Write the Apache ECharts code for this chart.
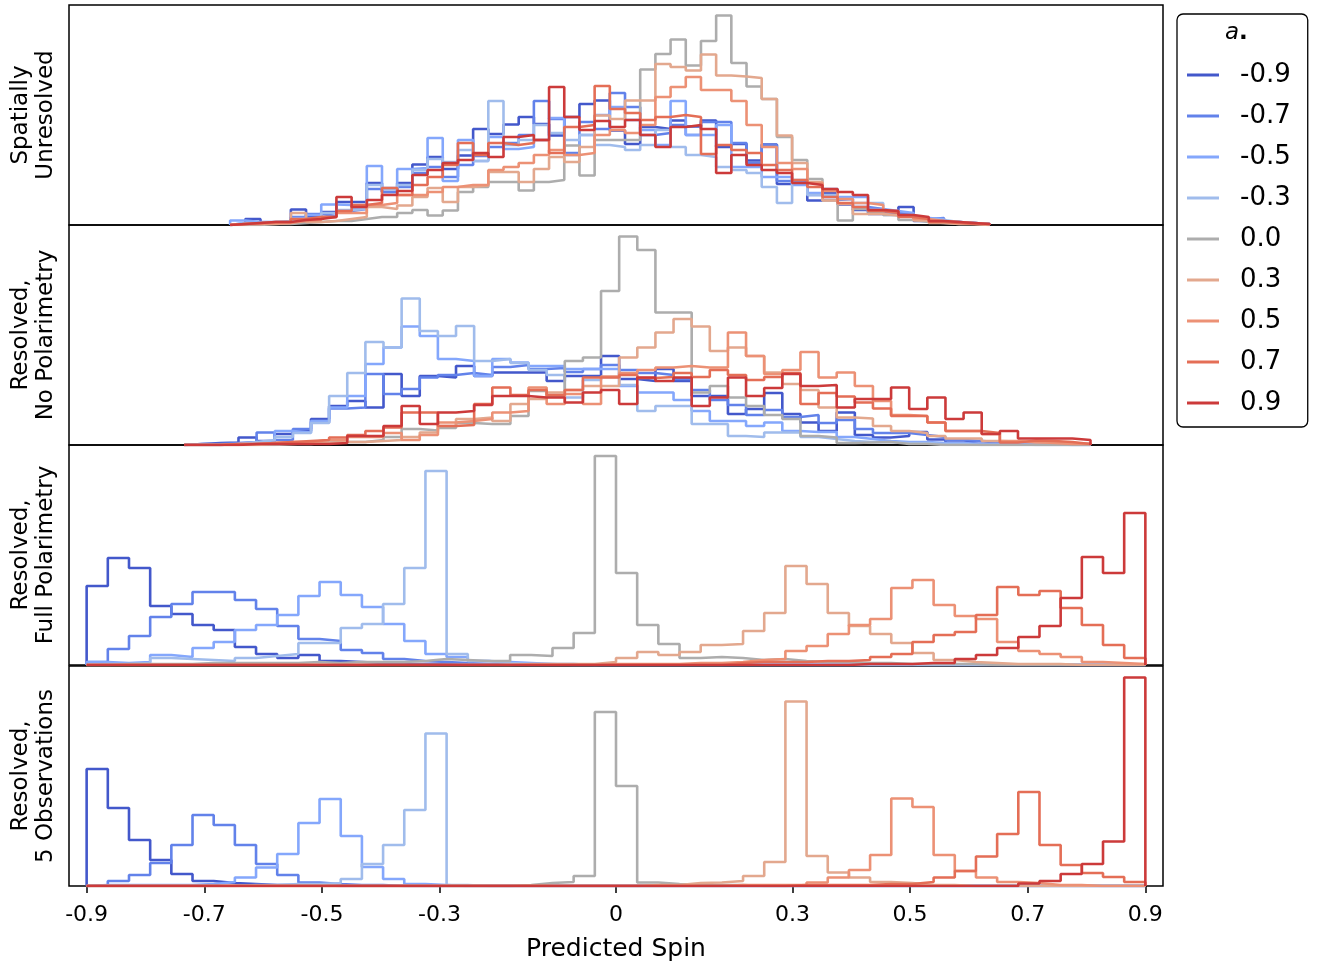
<!DOCTYPE html>
<html><head><meta charset="utf-8">
<script src="https://cdn.jsdelivr.net/npm/echarts@6/dist/echarts.min.js"></script>
<style>html,body{margin:0;padding:0;background:#fff}#c{width:1320px;height:965px}</style>
</head><body><div id="c"></div>
<script>
// ---- data ----
const spins = ['-0.9','-0.7','-0.5','-0.3','0.0','0.3','0.5','0.7','0.9'];
const colors = ['#4358cb','#6282ea','#84a7fc','#a0bcec','#adadad','#e3a88e','#ec9175','#e46e56','#cc3a3a'];
const panelLabels = ['Spatially\nUnresolved','Resolved,\nNo Polarimetry','Resolved,\nFull Polarimetry','Resolved,\n5 Observations'];
const tickValues = [-0.9,-0.7,-0.5,-0.3,0,0.3,0.5,0.7,0.9];

// bin edges: first edge and width per panel (50 bins each)
const P1_LO = -0.6561, P1_W = 0.025824;
const P2_LO = -0.7343, P2_W = 0.03082;
const P3_LO = -0.9,   P3_W = 0.036;
const P4_LO = -0.9,   P4_W = 0.036;

// Panel 1: Spatially Unresolved
const p1_n09 = [1,6,2,2,15.5,8.5,13,23,23,42,33,42,60.5,68,56,69.5,96,91,100.5,108,101,89.5,108,121,124.5,94.5,81,98,96,104.5,98.5,104.5,78,81,64.5,80.5,41,43,24.5,32,20.5,15,11,10,18,4,6,3,2,1];
const p1_n07 = [2,3,3,3,8,11,9,14,16,36,33,38,52,58,48,60,69,78,82,90,124,106,72,103,96,132,118,90,92,100,90,103,103,82,62,80,44,42,30,25,26,18,16,12,11,6,7,3,2,1];
const p1_n05 = [4.5,3,2,3,7,10,20.5,20,17,59,37,56,57,87,44,85,64,88,76,78,85,107,70,90,110,118,105,95,80,124,90,90,100,58,58,48,48,40,32,36,28,28,16,14,12,7,6,3,2,1];
const p1_n03 = [2,2,3,4,6,6,12,15,16,40,36,40,55,66,63,75,64,124,80,85,100,92,85,90,80,78,75,80,95,78,70,68,58,55,52,38,22,45,30,30,26,22,22,10,8,6,5,3,2,1];
const p1_00  = [0,0,1,1,2,3,4,4,6,8,8,12,15,9.5,14.5,33,38,43,43,34.5,43,45,79.5,49.5,85,85,85,155.5,171,185.5,159.5,184,209.5,162,138.5,126,88,65,46,24.5,4.5,16,13,10,5,3,2,1,1,0];
const p1_03  = [1,1,1,2,12,3,4,6,8,18,16,19.5,28,37,23,38,39.5,53,53,43,56,68,63,78,109.5,106,124.5,124.5,161,158,154.5,170.5,149.5,148.5,147,126,89.5,62,43,24.5,21,11,11,9.5,8,4.5,2,1,1,0];
const p1_05  = [1,1,2,2,4,5,8,12,12,20,22,30,30,33,38,40,40,55,58,62,70,75,70,72,90,95,92,100,128,138,148,135,135,124,100,78,62,56,42,34,26,22,20,14,9,6,4,3,2,1];
const p1_07  = [1,2,3,3,6,8,8,14,20,22,37,30,40,48,60,82,70,82,80,82,85,72,98,100,139,116,112,105,108,110,108,71,80,75,72,60,55,45,38,28,22,18,14,12,8,6,3,2,1,1];
const p1_09  = [1,2,3,3,5,6,8,28,18,25,30,34,50,55,62,65,72,68,88,90,85,138,108,95,104,98,105,90,78,98,100,96,52,70,60,55,52,42,40,36,33,30,15,14,10,8,4,3,2,1];

// Panel 2: Resolved, No Polarimetry
const p2_n09 = [1,2,2.5,7.5,4,11,14,26,39,44,37.5,71,49,69,67.5,79,69,72.5,72.5,72.5,64,69,69,89,66,64,76,64,49,49,31,36,52,31,22.5,14,32.5,10,7.5,9,13,5.5,2.5,4,2,1,1,1,1,1];
const p2_n07 = [1,1,2,3,12.5,5,16,22.5,36.5,37.5,71,51,56,67.5,70,72,70,78,80,76,77,73,76,80,75,72,70,66,55,45,40,30,35,28,30,22,25,16,12,12,10,8,5,4,3,2,1,1,0,0];
const p2_n05 = [0,0,1,2,3,14,12.5,24,37.5,49,81,97.5,118.5,109,86,84,69,86,82.5,79,79,76,76,76,59,52.5,52.5,45,34,24,24,19,22.5,14,13,13,8,6,4,3,3,2,2,1,1,1,0,0,0,0];
const p2_n03 = [0,0,1,3,5,8,12,22,49,72,103,97.5,146.5,114,109,119,84,86,82,75,70,47.5,65,68,60,34,39,39,21,21,9,8,12.5,12.5,8,6,4,3,3,2,2,1,1,0,0,0,0,0,0,0];
const p2_00  = [0,0,0,0,0,1,1,2.5,3,3,5,8,16,14.5,17,22,21,21,29,54,49,84,87.5,154,208.5,195,132.5,132.5,52.5,59,47.5,39,30,26,9,7.5,2,2.5,3,1,1,0,0,0,0,0,0,0,0,0];
const p2_03  = [0,0,0,0,1,1,2,2,3,3,4,5,8,12.5,19,26,27.5,24,41,46,52.5,55,59,59,87.5,97.5,112.5,126,118.5,94,97.5,89,72.5,61,55,37.5,27.5,26.5,19,14,12,9,6.5,6.5,4,3.5,2.5,2.5,2,1];
const p2_05  = [0,0,1,1,2,3,3,5,5,8,8,12,5,10,22.5,24,26,32.5,34,57.5,41,51,41,68.5,72,75,77.5,79,77.5,77.5,112.5,89,71,75,93,67.5,72.5,59,44,30,29,22.5,14,14,11,4,3,2,1,1];
const p2_07  = [0,0,1,1,2,3,4,5,7.5,10,14,17.5,32.5,32.5,19,20,41,57.5,50,55,50,55,67.5,67.5,70,67,68,72,68,75,70,65,68,72,41,52,48.5,42.5,36.5,29,29,22.5,14,14,12,2.5,4.5,4,3,1];
const p2_09  = [0,0,0,1,1,1,1,1,2,9,9,19,39,21,32.5,34,40,49,49,47.5,47.5,42.5,52.5,55,41,67.5,64,67.5,39,47.5,67.5,49,57,71,59,60,37.5,46,46,57.5,36,47.5,26,32.5,11,14,6.5,6.5,6.5,5];

// Panel 3: Resolved, Full Polarimetry
const p3_n09 = [79,107,97,59,51,40,35,18,11,7,10,4,3,2,1,1,1,1,0,0,0,0,0,0,0,0,0,0,0,0,0,0,0,0,0,0,0,0,0,0,0,0,0,0,0,0,0,0,0,0];
const p3_n07 = [3,16,29,48,61,73,73,65,56,39,26,24,15,12,6,4,3,2,1,1,0,0,0,0,0,0,0,0,0,0,0,0,0,0,0,0,0,0,0,0,0,0,0,0,0,0,0,0,0,0];
const p3_n05 = [3,2,3,10,8,17,23,35,40,50,69,83,70,58,41,24,11,8,4,3,2,1,1,0,0,0,0,0,0,0,0,0,0,0,0,0,0,0,0,0,0,0,0,0,0,0,0,0,0,0];
const p3_n03 = [1,1,2,7,6,5,4,7,9,11,22,22,37,41,61,97,194,11,4,2,1,1,0,0,0,0,0,0,0,0,0,0,0,0,0,0,0,0,0,0,0,0,0,0,0,0,0,0,0,0];
const p3_00  = [0,1,1,1,1,2,2,2,2,2,3,2,3,3,3,4,6,5,4,4,10,9,17,32,209,92,40,21,7,8,7,5,6,4,3,3,2,2,1,1,1,1,0,0,0,0,0,0,0,0];
const p3_03  = [0,0,0,0,0,0,0,0,0,0,0,0,0,0,0,0,0,0,0,0,1,1,1,1,3,7,13,10,13,20,21,34,52,99,81,52,39,31,22,12,5,3,2,1,1,1,0,0,0,0];
const p3_05  = [0,0,0,0,0,0,0,0,0,0,0,0,0,0,0,0,0,0,0,0,0,0,0,0,1,1,1,1,2,2,3,5,6,14,19,31,40,46,77,85,60,49,46,23,14,11,8,3,2,1];
const p3_07  = [0,0,0,0,0,0,0,0,0,0,0,0,0,0,0,0,0,0,0,0,0,0,0,0,0,0,0,0,0,0,2,3,3,3,4,4,5,8,11,23,30,33,50,78,70,74,57,40,20,7];
const p3_09  = [0,0,0,0,0,0,0,0,0,0,0,0,0,0,0,0,0,0,0,0,0,0,0,0,0,0,0,0,0,0,0,0,0,0,0,0,1,1,1,2,2,6,10,17,28,39,67,108,92,152];

// Panel 4: Resolved, 5 Observations
const p4_n09 = [117,78,46,26,12,5,3,2,1,1,1,0,0,0,0,0,0,0,0,0,0,0,0,0,0,0,0,0,0,0,0,0,0,0,0,0,0,0,0,0,0,0,0,0,0,0,0,0,0,0];
const p4_n07 = [1,5,11,23,41,71,61,41,22,11,3.5,2,1,1,0,0,0,0,0,0,0,0,0,0,0,0,0,0,0,0,0,0,0,0,0,0,0,0,0,0,0,0,0,0,0,0,0,0,0,0];
const p4_n05 = [1,1,1,1,1,2,4,8.5,18.5,32,63,87,50,19,7,2,1,0,0,0,0,0,0,0,0,0,0,0,0,0,0,0,0,0,0,0,0,0,0,0,0,0,0,0,0,0,0,0,0,0];
const p4_n03 = [0,0,0,0,0,0,0,1,1,2,2,3,7,22,41,76,152.5,1,0,0,0,0,0,0,0,0,0,0,0,0,0,0,0,0,0,0,0,0,0,0,0,0,0,0,0,0,0,0,0,0];
const p4_00  = [0,0,0,0,0,0,0,0,0,0,0,0,0,0,0,0,0,0,0,0,1,3,4,10,174,100,3.5,2,1,1,1,0,0,0,0,0,0,0,0,0,0,0,0,0,0,0,0,0,0,0];
const p4_03  = [0,0,0,0,0,0,0,0,0,0,0,0,0,0,0,0,0,0,0,0,0,0,0,0,0,0,1,1,3,3.5,5,10,24,184.5,30,13.5,8.5,4,3,1,1,0,0,0,0,0,0,0,0,0];
const p4_05  = [0,0,0,0,0,0,0,0,0,0,0,0,0,0,0,0,0,0,0,0,0,0,0,0,0,0,0,0,0,0,1,1,1,1,3.5,8.5,16,31,87.5,79,31,15,8.5,4,3,1,1,0,0,0];
const p4_07  = [0,0,0,0,0,0,0,0,0,0,0,0,0,0,0,0,0,0,0,0,0,0,0,0,0,0,0,0,0,0,0,0,0,1,1,1,1,2,2,4,8.5,15,29.5,52,94,41,21,13,9,4];
const p4_09  = [0,0,0,0,0,0,0,0,0,0,0,0,0,0,0,0,0,0,0,0,0,0,0,0,0,0,0,0,0,0,0,0,0,0,0,0,0,0,0,0,0,0,0,0,2.5,5,12,22,44.5,208.5];

const panels = [
  {lo:P1_LO, w:P1_W, sets:[p1_n09,p1_n07,p1_n05,p1_n03,p1_00,p1_03,p1_05,p1_07,p1_09]},
  {lo:P2_LO, w:P2_W, sets:[p2_n09,p2_n07,p2_n05,p2_n03,p2_00,p2_03,p2_05,p2_07,p2_09]},
  {lo:P3_LO, w:P3_W, sets:[p3_n09,p3_n07,p3_n05,p3_n03,p3_00,p3_03,p3_05,p3_07,p3_09]},
  {lo:P4_LO, w:P4_W, sets:[p4_n09,p4_n07,p4_n05,p4_n03,p4_00,p4_03,p4_05,p4_07,p4_09]}
];

function stepData(lo, w, counts) {
  const d = [[lo, 0]];
  counts.forEach((c, i) => d.push([lo + i * w, c]));
  const end = lo + counts.length * w;
  d.push([end, counts[counts.length - 1]]);
  d.push([end, 0]);
  return d;
}

const FONT = 'DejaVu Sans';
const tops = [5, 225, 445, 666];
const grids = [], xAxes = [], yAxes = [], series = [];
tops.forEach((t, p) => {
  grids.push({left: 69, right: 157, top: t, height: 220, show: true, borderColor: '#000', borderWidth: 1.5, containLabel: false});
  const last = p === 3;
  xAxes.push({
    type: 'value', gridIndex: p, min: -0.93, max: 0.93,
    axisLine: {show: false}, splitLine: {show: false},
    axisTick: {show: last, customValues: tickValues, length: 7, lineStyle: {color: '#000', width: 1.5}},
    axisLabel: {show: last, customValues: tickValues, margin: 18, fontSize: 22, color: '#000', fontFamily: FONT,
      formatter: v => (Math.abs(v) < 1e-9 ? '0' : v.toFixed(1))},
    name: last ? 'Predicted Spin' : '', nameLocation: 'middle', nameGap: 51,
    nameTextStyle: {fontSize: 25, color: '#000', fontFamily: FONT}
  });
  yAxes.push({
    type: 'value', gridIndex: p, min: 0, max: 220,
    axisLine: {show: false}, axisTick: {show: false}, axisLabel: {show: false}, splitLine: {show: false},
    name: panelLabels[p], nameLocation: 'middle', nameRotate: 90, nameGap: 10,
    nameTextStyle: {fontSize: 23, lineHeight: 25, color: '#000', fontFamily: FONT, align: 'center'}
  });
  panels[p].sets.forEach((arr, s) => {
    series.push({
      type: 'line', name: spins[s], xAxisIndex: p, yAxisIndex: p,
      data: stepData(panels[p].lo, panels[p].w, arr), step: 'end',
      symbol: 'none', showSymbol: false, color: colors[s],
      lineStyle: {width: 2.6, color: colors[s]}, animation: false
    });
  });
});

const chart = echarts.init(document.getElementById('c'), null, {renderer: 'canvas'});
chart.setOption({
  backgroundColor: '#fff',
  animation: false,
  grid: grids, xAxis: xAxes, yAxis: yAxes, series: series,
  legend: {
    data: spins, orient: 'vertical', left: 1177, top: 14,
    padding: [48, 17, 11, 10], itemGap: 15, itemWidth: 32, itemHeight: 3, icon: 'rect',
    borderColor: '#000', borderWidth: 1.3, borderRadius: 6, backgroundColor: '#fff',
    textStyle: {fontSize: 26, color: '#000', fontFamily: FONT, padding: [0, 0, 0, 16]},
    selectedMode: false
  },
  graphic: [{
    type: 'text', left: 1225, top: 22, z: 100,
    style: {
      text: '{a|a}{d|.}', rich: {
        a: {fontSize: 23, fontStyle: 'italic', fontFamily: FONT, fill: '#000'},
        d: {fontSize: 23, fontWeight: 'bold', fontFamily: FONT, fill: '#000'}
      }
    }
  }]
});
</script></body></html>
